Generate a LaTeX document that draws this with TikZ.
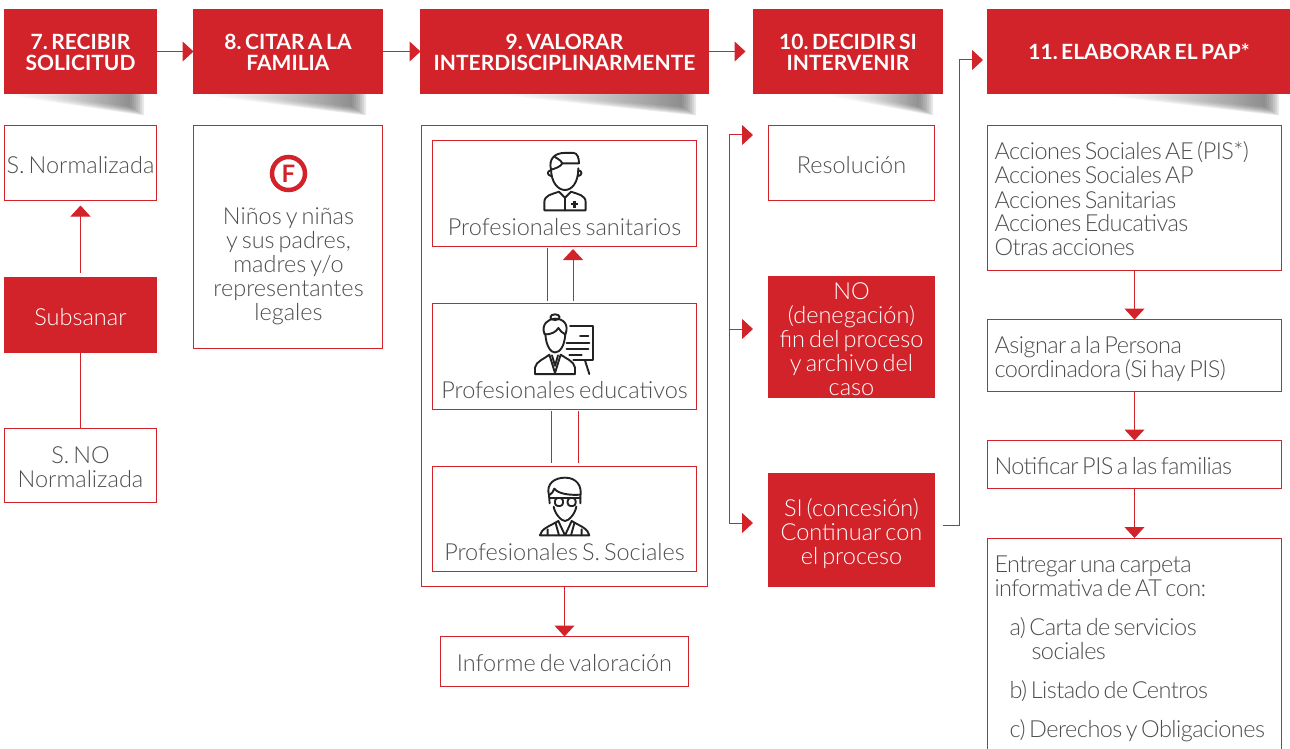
\documentclass[tikz,border=0pt]{standalone}
\usepackage{xcolor}
\usepackage{fontspec}
\setmainfont{Lato Light}[BoldFont={Lato Bold}]
\newfontfamily\apretada{Lato Light}[LetterSpace=-2.3]
\usetikzlibrary{arrows.meta}
\definecolor{rojo}{HTML}{D2232A}
\definecolor{texto}{HTML}{4C4D4F}
\definecolor{icono}{HTML}{222222}
\tikzset{
    ancho/.style={minimum width=#1,text width=#1},
    rotulo/.style={inner sep=0pt,outer sep=0pt,text=texto,align=center,font=\fontsize{23.5}{24}\selectfont,
        execute at begin node={\spaceskip=4pt\relax\xspaceskip=4pt\relax\rule{0pt}{27pt}},execute at end node={\rule[-7pt]{0pt}{7pt}}},
    caja/.style={rotulo,draw=rojo,line width=1pt,rectangle},
    llena/.style={caja,fill=rojo,text=white},
    cabecera/.style={draw=rojo,line width=1pt,fill=rojo,rectangle,inner sep=0pt,outer sep=0pt,text=white,align=center,
        minimum height=84pt,font=\fontsize{21}{21}\selectfont\bfseries,
        execute at begin node={\spaceskip=3.5pt\relax\xspaceskip=3.5pt\relax\rule{0pt}{24pt}},execute at end node={\rule[-7pt]{0pt}{7pt}}},
    izq/.style={caja,align=left,text width=280pt,inner xsep=7pt,
        font=\fontsize{23.5}{24}\selectfont\apretada,
        execute at begin node={\spaceskip=3.5pt\relax\xspaceskip=3.5pt\relax\rule{0pt}{27pt}}},
    flecha/.style={draw=rojo,line width=1pt,-{Triangle[width=20pt,length=11pt]}},
    linea/.style={draw=rojo,line width=1pt},
    trazo/.style={draw=icono,line width=1.9pt,line cap=round,line join=round},
}
% sombra bajo la cabecera
\newcommand{\sombra}[2]{
    \foreach \d in {-4,-2,0,2,4,6,8,10}
        \shade[left color=white,right color=black!65,opacity=.14]
            (#1+3*\d,94) -- (#2-\d,94) -- (#2-\d,113-.6*\d) -- cycle;
}
\begin{document}
\begin{tikzpicture}[x=1pt,y=-1pt]
    \useasboundingbox (0,0) rectangle (1290,749);
    \sombra{10}{140}
    \sombra{205}{362}
    \sombra{500}{692}
    \sombra{830}{929}
    \sombra{1100}{1275}

    \node[cabecera,ancho=152pt] (h7) at (80.5,51.5) {7. RECIBIR\\SOLICITUD};
    \node[cabecera,ancho=189pt] (h8) at (288,51.5) {8. CITAR A LA\\FAMILIA};
    \node[cabecera,ancho=288pt] (h9) at (564.5,51.5) {9. VALORAR\\INTERDISCIPLINARMENTE};
    \node[cabecera,ancho=189pt] (h10) at (848,51.5) {10. DECIDIR SI\\INTERVENIR};
    \node[cabecera,ancho=303pt] (h11) at (1139,51.5) {11. ELABORAR EL PAP*};

    \node[caja,ancho=152pt,minimum height=75pt] (snorm) at (80.5,163) {S. Normalizada};
    \node[llena,ancho=152pt,minimum height=75pt] (subs) at (80.5,315) {Subsanar};
    \node[caja,ancho=152pt,minimum height=74pt] (sno) at (80.5,465.5) {S. NO\\Normalizada};

    \node[caja,ancho=189pt,minimum height=223pt] (fam) at (288,237) {};
    \node[draw=rojo,line width=4.5pt,circle,minimum size=33pt,inner sep=0pt,text=rojo,
        font=\fontsize{24}{24}\selectfont\bfseries] (ficono) at (288.5,173.5) {F};
    \node[rotulo,ancho=180pt] (famtxt) at (288.5,262.5)
        {Niños y niñas\\y sus padres,\\madres y/o\\representantes\\legales};

    \node[caja,ancho=286pt,minimum height=461pt] (val) at (564.5,356) {};
    \node[caja,ancho=264pt,minimum height=106pt] (san) at (564.5,193.5) {};
    \node[caja,ancho=264pt,minimum height=106pt] (edu) at (564.5,356.5) {};
    \node[caja,ancho=264pt,minimum height=105pt] (soc) at (564.5,519) {};
    \node[rotulo,ancho=260pt] (santxt) at (564.5,225.5) {Profesionales sanitarios};
    \node[rotulo,ancho=260pt] (edutxt) at (564.5,388.5) {Profesionales educativos};
    \node[rotulo,ancho=260pt] (soctxt) at (564.5,550.5) {Profesionales S. Sociales};
    \node[caja,ancho=248pt,minimum height=50pt] (inf) at (564.5,661.5) {Informe de valoración};

    \node[caja,ancho=166pt,minimum height=75pt] (res) at (851.5,163) {Resolución};
    \node[llena,ancho=166pt,minimum height=121pt] (no) at (851.5,337) {};
    \node[rotulo,ancho=160pt,text=white] (notxt) at (851.5,337)
        {NO\\(denegación)\\fin del proceso\\y archivo del\\caso};
    \node[llena,ancho=166pt,minimum height=113pt] (si) at (851.5,530)
        {SI (concesión)\\Continuar con\\el proceso};

    \node[izq,minimum height=145pt] (acc) at (1134.5,198)
        {Acciones Sociales AE (PIS*)\\Acciones Sociales AP\\Acciones Sanitarias\\Acciones Educativas\\Otras acciones};
    \node[izq,minimum height=72pt] (asig) at (1134.5,355.5) {Asignar a la Persona\\coordinadora (Si hay PIS)};
    \node[izq,minimum height=48pt] (notif) at (1134.5,464.5) {Notificar PIS a las familias};
    \node[izq,minimum height=214pt] (carp) at (1134.5,645) {Entregar una carpeta\\informativa de AT con:\\[15pt]
        \hspace*{15pt}a) Carta de servicios\\\hspace*{37pt}sociales\\[15pt]
        \hspace*{15pt}b) Listado de Centros\\[15pt]
        \hspace*{15pt}c) Derechos y Obligaciones};

    \coordinate (brktop) at (729,135);
    \coordinate (brkmid) at (729,329);
    \coordinate (brkbot) at (729,523);
    \coordinate (tipres) at (753,135);
    \coordinate (tipno) at (753,329);
    \coordinate (tipsi) at (753,523);
    \coordinate (subida) at (959.5,525);
    \coordinate (codo) at (959.5,60);
    \coordinate (tippap) at (983,60);
    \coordinate (sanb) at (547,248);
    \coordinate (edub) at (547,301);
    \coordinate (sanc) at (573,249);
    \coordinate (educ) at (573,301);
    \coordinate (edud) at (551,411);
    \coordinate (socd) at (551,463);
    \coordinate (edue) at (578,411);
    \coordinate (soce) at (578,463);

    \draw[flecha] (h7) -- (h8);
    \draw[flecha] (h8) -- (h9);
    \draw[flecha,shorten >=8pt] (h9) -- (h10);
    \draw[flecha,shorten >=5pt,shorten <=5pt] (subs) -- (snorm);
    \draw[linea] (subs) -- (sno);
    \draw[flecha] (val) -- (inf);
    \draw[linea] (sanb) -- (edub);
    \draw[flecha] (educ) -- (sanc);
    \draw[linea] (edud) -- (socd);
    \draw[linea] (edue) -- (soce);
    \draw[flecha] (brkbot) -- (brktop) -- (tipres);
    \draw[flecha] (brkmid) -- (tipno);
    \draw[flecha] (brkbot) -- (tipsi);
    \draw[flecha,shorten <=8pt] (si.east |- subida) -- (subida) -- (codo) -- (tippap);
    \draw[flecha] (acc) -- (asig);
    \draw[flecha] (asig) -- (notif);
    \draw[flecha] (notif) -- (carp);

    % iconos
    \begin{scope}[shift={(535,148)},x=0.3333pt,y=-0.35pt]
        \draw[trazo] (48,58) .. controls (48,100) and (70,120) .. (90,120) .. controls (110,120) and (130,100) .. (130,58);
        \draw[trazo] (48,62) .. controls (40,30) and (60,14) .. (90,14) -- (115,14) .. controls (128,14) and (132,30) .. (132,44) -- (82,44) .. controls (76,54) and (62,58) .. (48,62);
        \draw[trazo] (82,44) .. controls (76,32) and (64,30) .. (58,24);
        \draw[trazo] (46,64) .. controls (36,66) and (36,78) .. (48,80);
        \draw[trazo] (132,64) .. controls (142,66) and (142,78) .. (130,80);
        \draw[trazo] (28,178) -- (28,155) .. controls (28,135) and (50,132) .. (72,125) -- (90,142) -- (108,125) .. controls (130,132) and (152,135) .. (152,155) -- (152,178) -- cycle;
        \draw[trazo] (90,142) -- (90,178);
        \draw[trazo,line width=2.4pt,line cap=butt] (108,160) -- (128,160) (118,150) -- (118,170);
    \end{scope}
    \begin{scope}[shift={(530,310)},x=0.3333pt,y=-0.36pt]
        \draw[trazo] (75,20) ellipse (14 and 8);
        \draw[trazo] (46,66) .. controls (48,100) and (62,118) .. (75,118) .. controls (90,118) and (104,100) .. (106,66);
        \draw[trazo] (44,68) .. controls (32,40) and (55,24) .. (75,24) .. controls (100,24) and (118,40) .. (106,68) .. controls (98,64) and (90,58) .. (85,50) .. controls (78,62) and (62,68) .. (44,68);
        \draw[trazo] (15,178) -- (15,160) .. controls (18,142) and (45,135) .. (58,124) -- (75,175) -- (92,124) .. controls (108,135) and (132,142) .. (135,160) -- (135,178) -- cycle;
        \draw[trazo] (66,126) -- (75,155) -- (84,126);
        \draw[trazo] (120,45) -- (190,45) -- (190,138) -- (130,138);
        \draw[trazo] (150,72) -- (175,72) (110,92) -- (178,92) (110,108) -- (175,108) (118,124) -- (155,124);
        \draw[trazo] (165,140) -- (178,178);
    \end{scope}
    \begin{scope}[shift={(535,476)},x=0.3333pt,y=-0.3333pt]
        \draw[trazo] (42,58) .. controls (32,22) and (60,5) .. (90,5) .. controls (125,5) and (142,30) .. (136,62) -- (136,82);
        \draw[trazo] (42,58) -- (44,82);
        \draw[trazo] (42,58) .. controls (50,54) and (56,46) .. (58,38) .. controls (70,55) and (110,58) .. (136,56);
        \draw[trazo] (44,66) -- (136,66);
        \draw[trazo,rounded corners=3pt] (60,66) rectangle (84,90);
        \draw[trazo,rounded corners=3pt] (98,66) rectangle (122,90);
        \draw[trazo] (56,92) .. controls (60,115) and (80,135) .. (90,135) .. controls (100,135) and (120,115) .. (124,92);
        \draw[trazo] (15,178) .. controls (18,158) and (45,150) .. (70,135) -- (90,178) -- (110,135) .. controls (135,150) and (160,158) .. (163,178) -- cycle;
        \draw[trazo] (62,142) -- (72,178) (118,142) -- (108,178) (38,160) -- (38,178) (140,160) -- (140,178);
    \end{scope}
\end{tikzpicture}
\end{document}
